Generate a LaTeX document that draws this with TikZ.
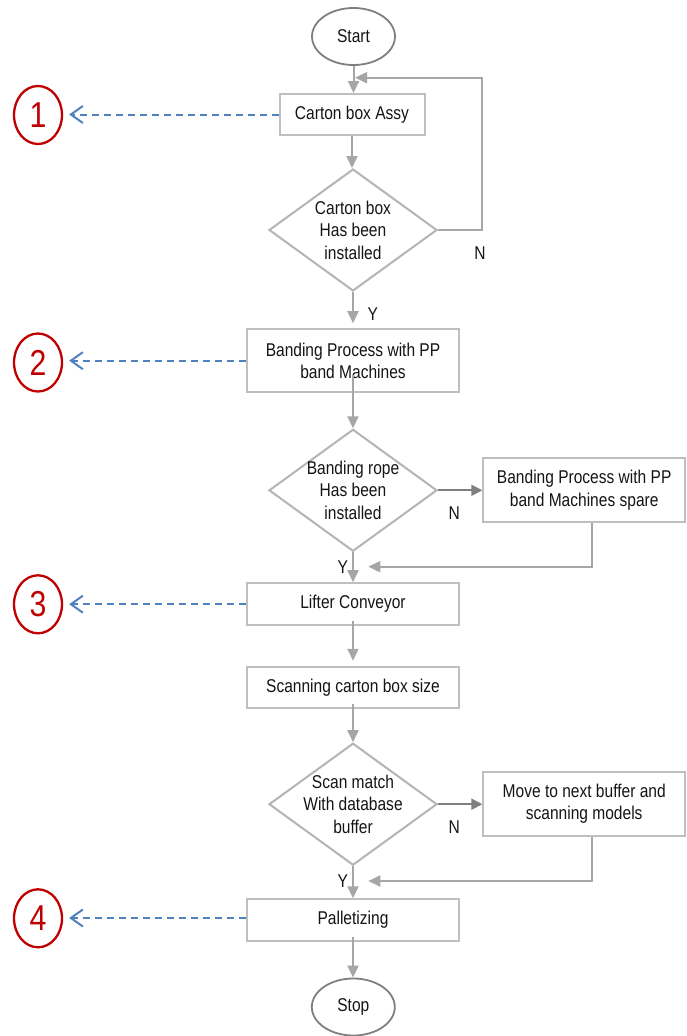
\documentclass[tikz,border=0pt]{standalone}
\usepackage{fontspec}
\setmainfont[FakeStretch=0.84]{Liberation Sans}
\usetikzlibrary{shapes.geometric,arrows.meta,calc}
\definecolor{boxgray}{HTML}{BFBFBF}
\definecolor{diagray}{HTML}{B4B4B4}
\definecolor{arrgray}{HTML}{A6A6A6}
\definecolor{termgray}{HTML}{7F7F7F}
\definecolor{markred}{HTML}{C00000}
\definecolor{linkblue}{HTML}{4F81BD}
\definecolor{txt}{HTML}{141414}

\begin{document}
\begin{tikzpicture}[x=1pt,y=-1pt,
  every node/.style={font=\fontsize{18.5}{22.5}\selectfont, text=txt},
  procbox/.style={rectangle, draw=boxgray, line width=2pt, inner sep=0pt, align=center},
  terminal/.style={ellipse, draw=termgray, line width=1.8pt, inner sep=0pt,
    minimum width=83pt, minimum height=57pt},
  decision/.style={diamond, draw=diagray, line width=2pt, inner sep=-12pt,
    minimum width=168pt, minimum height=122pt, align=center},
  marker/.style={ellipse, draw=markred, line width=2.3pt, inner sep=0pt,
    minimum width=48pt, minimum height=58pt, text=markred,
    font=\fontsize{36}{36}\selectfont},
  arr/.style={draw=arrgray, line width=2pt, -{Triangle[length=12pt,width=11pt]}},
  sidearr/.style={draw=termgray, line width=2pt, -{Triangle[length=11pt,width=11pt]}},
  linkarr/.style={draw=linkblue, line width=2pt, dash pattern=on 7pt off 5pt,
    -{Straight Barb[length=12pt,width=17pt,line width=2pt]}},
  flag/.style={inner sep=0pt}
]
\useasboundingbox (0,0) rectangle (686,1036);

% main column
\node[terminal] (start) at (353.5,36.5) {Start};
\node[procbox, minimum width=145pt, minimum height=41pt] (assy) at (352,114.5) {Carton box Assy};
\node[decision] (d1) at (353,230) {Carton box\\Has been\\installed};
\node[procbox, minimum width=211.7pt, minimum height=63pt] (band) at (353,360.7)
  {Banding Process with PP\\band Machines};
\node[decision] (d2) at (353,490.3) {Banding rope\\Has been\\installed};
\node[procbox, minimum width=201.7pt, minimum height=64pt] (spare) at (584.2,490)
  {Banding Process with PP\\band Machines spare};
\node[procbox, minimum width=211.7pt, minimum height=42pt] (lift) at (353,604.2) {Lifter Conveyor};
\node[procbox, minimum width=211.7pt, minimum height=40.5pt] (scan) at (353,687.5) {Scanning carton box size};
\node[decision] (d3) at (353,804.2) {Scan match\\With database\\buffer};
\node[procbox, minimum width=201.7pt, minimum height=64pt] (move) at (584.2,803.7)
  {Move to next buffer and\\scanning models};
\node[procbox, minimum width=211.7pt, minimum height=41.5pt] (pal) at (353,920) {Palletizing};
\node[terminal] (stop) at (353.3,1007) {Stop};

% numbered markers
\node[marker] (m1) at (38,115) {1};
\node[marker] (m2) at (38,362.5) {2};
\node[marker] (m3) at (38,604.3) {3};
\node[marker] (m4) at (38,918.3) {4};

% branch labels
\node[flag] (n1) at (480,253) {N};
\node[flag] (y1) at (372.7,314) {Y};
\node[flag] (n2) at (454.3,513.3) {N};
\node[flag] (y2) at (342.7,566.7) {Y};
\node[flag] (n3) at (454.3,826.7) {N};
\node[flag] (y3) at (342.7,881) {Y};

% helper points for the loop and the return lines
\coordinate (loopc) at (481.7,77.7);
\coordinate (loopt) at (355,77.7);
\coordinate (r1) at (592.3,566.7);
\coordinate (t1) at (368.3,566.7);
\coordinate (r2) at (592.3,881);
\coordinate (t2) at (368.3,881);

% flow connectors
\draw[arr] (start.south) -- (start.south |- assy.north);
\draw[arr] (assy.south) -- (assy.south |- d1.north);
\draw[arr] (d1.east) -| (loopc) -- (loopt);
\draw[arr, shorten >=5pt] (d1.south) -- (band.north);
\draw[arr] ($(band.center)+(0,14.3)$) -- (d2.north);
\draw[sidearr] (d2.east) -- (d2.east -| spare.west);
\draw[arr] (spare.south -| r1) -- (r1) -- (t1);
\draw[arr] (d2.south) -- (lift.north);
\draw[arr, shorten >=5.5pt] ($(lift.south)+(0,-5)$) -- (scan.north);
\draw[arr] ($(scan.south)+(0,-4.5)$) -- (d3.north);
\draw[sidearr] (d3.east) -- (d3.east -| move.west);
\draw[arr] (move.south -| r2) -- (r2) -- (t2);
\draw[arr] (d3.south) -- (pal.north);
\draw[arr] ($(pal.south)+(0,-4.5)$) -- (pal.south |- stop.north);

% links to the numbered markers
\draw[linkarr, shorten >=6pt] (assy.west) -- (assy.west -| m1.east);
\draw[linkarr, shorten >=6pt] (band.west) -- (band.west -| m2.east);
\draw[linkarr, shorten >=6pt] (lift.west) -- (lift.west -| m3.east);
\draw[linkarr, shorten >=6pt] ($(pal.west)+(0,-2)$) -- ($(pal.west -| m4.east)+(0,-2)$);
\end{tikzpicture}
\end{document}
